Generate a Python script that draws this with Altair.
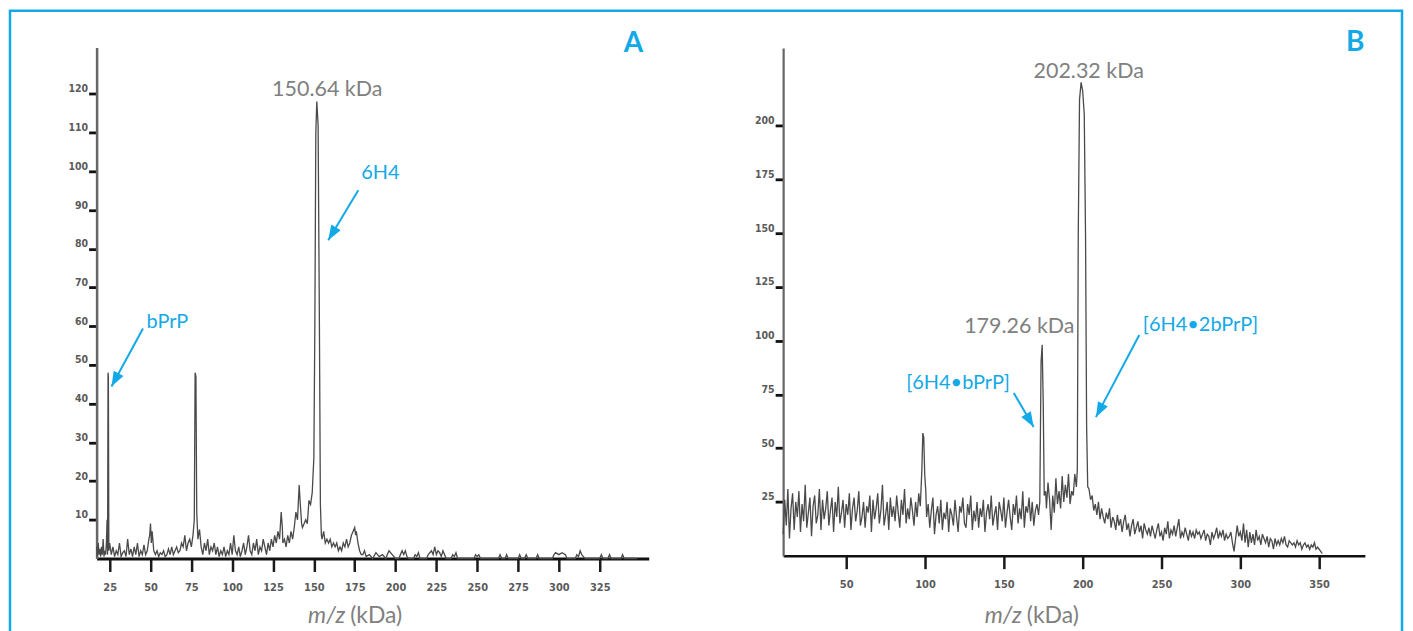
import altair as alt
import pandas as pd

BLUE = "#12a9e6"
GRAY_TXT = "#808080"
LINE = "#4a4a4a"
TICK_FONT = "Liberation Sans Narrow, DejaVu Sans Condensed, sans-serif"
MAIN_FONT = "Lato"

# ---------------- Panel A spectrum ----------------
A_MZ = [
    17, 17.5, 18, 18.5, 19, 19.5, 20, 20.5, 21, 21.5,
    22, 22.5, 23, 23.4, 23.7, 24.0, 24.2, 24.5, 25, 26,
    27, 28, 29, 30, 31, 32, 33, 34, 35, 36,
    37, 38, 39, 40, 41, 42, 43, 44, 45, 46,
    47, 48, 49, 49.5, 50, 50.5, 51, 52, 53, 54,
    55, 56, 57, 58, 59, 60, 61, 62, 63, 64,
    65, 66, 67, 68, 69, 70, 71, 72, 73, 74,
    75, 76, 76.8, 77.3, 77.8, 78.3, 79, 80, 81, 82,
    83, 84, 85, 86, 87, 88, 89, 90, 91, 92,
    93, 94, 95, 96, 97, 98, 99, 100, 101, 102,
    103, 104, 105, 106, 107, 108, 109, 110, 111, 112,
    113, 114, 115, 116, 117, 118, 119, 120, 121, 122,
    123, 124, 125, 126, 127, 128, 129, 130, 130.7, 131,
    132, 133, 134, 135, 136, 137, 138, 139, 140, 141,
    141.7, 142.5, 143, 144, 145, 146, 147, 148, 149, 150,
    150.6, 151.2, 151.8, 152.6, 153.4, 154, 154.6, 155, 156, 157,
    158, 159, 160, 161, 162, 163, 164, 165, 166, 167,
    168, 169, 170, 171, 172, 173, 174, 175, 175.6, 176,
    177, 178, 179, 180, 181, 182, 184, 186, 188, 190,
    192, 194, 196, 198, 200, 202, 203, 204, 205, 206,
    207, 208, 211, 212, 213, 214, 215, 219, 220, 222,
    223, 224, 225, 226, 227, 228, 229, 230, 231, 234,
    235, 236, 237, 238, 248, 249, 250, 251, 252, 263,
    264, 265, 267, 268, 269, 275, 276, 277, 279, 280,
    281, 286, 287, 288, 296, 297, 298, 300, 302, 304,
    305, 310, 311, 312, 313, 314, 315, 316, 325, 326,
    327, 330, 331, 332, 338, 339, 340, 348,
]
A_INT = [
    3, 0.5, 4, 1, 2.5, 0.5, 3, 1, 5, 0.5,
    2, 1, 4, 10, 1, 48, 47, 2, 4, 1,
    3, 0.5, 2, 1, 4, 0.5, 1.5, 2, 0.5, 5,
    1, 2.5, 0.5, 3, 1, 4, 0.5, 2, 1, 3.5,
    1, 2, 5, 6, 9, 4, 7, 2, 1, 2,
    0.5, 1.5, 1, 2, 0.5, 1, 2.5, 1, 3, 1,
    2, 3, 1.5, 2, 4, 3, 6, 2, 4, 5,
    3, 6, 10, 48, 47, 12, 5, 7.5, 3, 1,
    4, 2, 5, 1, 3, 2, 4, 1, 3, 0.5,
    2, 1, 3, 0.5, 2, 1, 4, 1, 6, 2,
    1, 3, 0.5, 2, 4, 1, 3, 6, 2, 1,
    4, 2, 5, 1, 3, 2, 5, 3, 1, 4,
    2, 5, 3, 6, 4, 7, 5, 12, 8, 4,
    5, 3, 6, 4, 7, 5, 8, 12, 10, 19,
    14, 9, 8, 9, 10, 9, 15, 14, 17, 26,
    60, 110, 118, 112, 60, 14, 6, 5, 7, 4,
    5, 4, 5, 3, 4, 3, 4, 2, 3, 2,
    4, 3, 5, 3, 4, 6, 7, 8, 6, 7,
    4, 2, 1, 1, 2, 0.5, 1, 0, 1.5, 0.5,
    1, 0, 2, 1, 0, 0, 1, 2, 1, 2,
    0.5, 0, 0, 1, 0.5, 1.5, 0, 0, 1, 2,
    1, 3, 1, 2, 1.5, 0.5, 2, 1, 0, 0,
    1, 0.5, 1.5, 0, 0, 1, 0.5, 1, 0, 0,
    1, 0, 0, 1, 0, 0, 1, 0, 0, 1,
    0, 0, 1, 0, 0, 1, 1.5, 1, 1.5, 1,
    0, 0, 1, 0.5, 2, 1, 0.5, 0, 0, 1,
    0, 0, 1, 0, 0, 1, 0, 0,
]

# ---------------- Panel B spectrum ----------------
B_MZ = (
    list(range(10, 98))
    + [98, 98.6, 99.2, 99.8, 100.5]
    + list(range(101, 173))
    + [172.8, 173.6, 174.3, 175, 175.6, 176.5]
    + list(range(177, 196))
    + [196, 196.6, 197.2, 198, 199, 200, 201, 201.8, 202.5, 203.2]
    + list(range(204, 353))
)
B_INT = [
    # 10-97
    10, 26, 14, 31, 8, 22, 29, 12, 25, 18,
    30, 11, 24, 16, 33, 13, 20, 27, 9, 23,
    28, 15, 19, 31, 12, 26, 17, 22, 30, 14,
    21, 27, 11, 25, 18, 32, 15, 20, 26, 13,
    24, 19, 29, 12, 22, 27, 16, 21, 30, 14,
    18, 25, 13, 23, 20, 28, 11, 26, 17, 22,
    29, 15, 21, 33, 14, 19, 25, 12, 27, 18,
    23, 16, 28, 20, 13, 26, 19, 31, 15, 22,
    17, 27, 21, 14, 25, 18, 29, 23,
    # peak near 99
    40, 57, 55, 38, 30,
    # 101-172
    18, 24, 13, 21, 27, 10, 19,
    23, 15, 26, 12, 20, 17, 25, 11, 22, 19,
    14, 26, 18, 11, 23, 20, 27, 15, 13, 24,
    19, 28, 12, 21, 16, 25, 13, 22, 18, 26,
    11, 20, 24, 17, 28, 14, 19, 23, 12, 25,
    21, 16, 27, 13, 20, 26, 18, 12, 24, 19,
    28, 15, 22, 17, 30, 13, 23, 20, 27, 16,
    25, 14, 21, 24, 19,
    # peak 179.26
    25, 90, 98, 70, 28, 30,
    # 177-195
    22, 34, 26, 12, 28, 20, 36, 24, 30, 22,
    37, 25, 33, 27, 38, 24, 30, 28, 38,
    # peak 202.32
    32, 40, 150, 212, 220, 216, 205, 150, 60, 32,
    # 204-352
    31, 26, 28, 21, 24, 19, 25, 17, 22, 18,
    15, 20, 17, 22, 13, 18, 16, 12, 19, 14,
    17, 11, 16, 19, 12, 15, 9, 14, 17, 10,
    13, 16, 11, 14, 8, 15, 12, 10, 13, 9,
    14, 11, 8, 12, 15, 9, 11, 7, 13, 10,
    16, 8, 12, 10, 14, 9, 13, 17, 8, 11,
    9, 13, 10, 7, 12, 9, 11, 8, 12, 10,
    11, 8, 10, 12, 7, 10, 9, 5, 11, 8,
    10, 13, 8, 11, 9, 12, 7, 10, 8, 9,
    11, 6, 2, 8, 14, 9, 11, 7, 15, 6,
    12, 4, 11, 6, 10, 5, 12, 7, 9, 5,
    10, 8, 6, 9, 4, 8, 7, 3, 8, 5,
    7, 5, 8, 6, 9, 5, 4, 7, 6, 5,
    6, 4, 7, 5, 6, 3, 5, 6, 4, 5,
    3, 5, 4, 6, 3, 4, 3, 2, 1,
]
assert len(A_MZ) == len(A_INT), (len(A_MZ), len(A_INT))
assert len(B_MZ) == len(B_INT), (len(B_MZ), len(B_INT))

# ---------------- ticks ----------------
A_XTICKS = [25, 50, 75, 100, 125, 150, 175, 200, 225, 250, 275, 300, 325]
A_YTICKS = [10, 20, 30, 40, 50, 60, 70, 80, 90, 100, 110, 120]
B_XTICKS = [50, 100, 150, 200, 250, 300, 350]
B_YTICKS = [25, 50, 75, 100, 125, 150, 175, 200]

# ---------------- annotations (data coordinates) ----------------
A_LETTER = ["A"]; A_LETTER_X = [345.7]; A_LETTER_Y = [133]
A_MASS_TEXT = ["150.64 kDa"]; A_MASS_X = [158.2]; A_MASS_Y = [121.1]
A_NAME_TEXT = ["6H4", "bPrP"]; A_NAME_X = [179, 47.6]; A_NAME_Y = [99.5, 61.2]
A_ARROW_X = [177.2, 45.4]; A_ARROW_Y = [95.1, 59.4]
A_TIP_X = [158.8, 26.1]; A_TIP_Y = [82.2, 44.4]; A_TIP_ANGLE = [211, 208.4]
A_TITLE_X = [169.8]; A_TITLE_Y = [-14.9]

B_LETTER = ["B"]; B_LETTER_X = [372.8]; B_LETTER_Y = [238.5]
B_MASS_TEXT = ["202.32 kDa", "179.26 kDa"]; B_MASS_X = [203.8, 159.8]; B_MASS_Y = [225.0, 106.4]
B_NAME_TEXT = ["[6H4•bPrP]", "[6H4•2bPrP]"]; B_NAME_X = [120.9, 274.7]; B_NAME_Y = [80.3, 107.2]
B_ARROW_X = [156.3, 235.9]; B_ARROW_Y = [75.6, 102.6]
B_TIP_X = [168.9, 208.4]; B_TIP_Y = [59.8, 64.4]; B_TIP_ANGLE = [149.5, 207.8]
B_TITLE_X = [162.0]; B_TITLE_Y = [-28.2]

ARROW_HEAD = "M0,0L-0.37,1L0.37,1Z"

H = 630


def panel(mz, inten, sx_dom, sx_rng, sy_dom, sy_rng, xticks, yticks,
          x_off, y_off, letter, lx, ly, mass_t, mx, my, name_t, nx, ny, name_align,
          ax, ay, tx, ty, tang, tix, tiy, dom_x_w, dom_y_w):
    def SX():
        return alt.Scale(domain=sx_dom, range=sx_rng, nice=False, zero=False)

    def SY():
        return alt.Scale(domain=sy_dom, range=sy_rng, nice=False, zero=False)

    spec = pd.DataFrame({"mz": mz, "intensity": inten})
    line = alt.Chart(spec).mark_line(color=LINE, strokeWidth=1.3).encode(
        x=alt.X("mz:Q", scale=SX(), axis=alt.Axis(
            orient="bottom", offset=x_off, values=xticks, title=None, grid=False,
            domainColor="#111111", domainWidth=dom_x_w, ticks=True, tickColor="#1a1a1a",
            tickWidth=2.5, tickSize=13, tickOpacity=1, labelFont=TICK_FONT, labelFontSize=11,
            labelFontWeight="bold", labelColor="#5a5a5a", labelPadding=10,
            labelFlush=False, labelOverlap=False)),
        y=alt.Y("intensity:Q", scale=SY(), axis=alt.Axis(
            orient="left", offset=y_off, values=yticks, title=None, grid=False,
            domainColor="#666666", domainWidth=dom_y_w, ticks=True, tickColor="#111111",
            tickWidth=2.8, tickSize=8, labelFont=TICK_FONT, labelFontSize=10.5,
            labelFontWeight="bold", labelColor="#5a5a5a", labelPadding=1,
            labelBaseline="bottom", labelAlign="right",
            labelFlush=False, labelOverlap=False)),
    )

    def ax_(f):
        return alt.X(f, scale=SX(), axis=None)

    def ay_(f):
        return alt.Y(f, scale=SY(), axis=None)

    let_df = pd.DataFrame({"t": letter, "x": lx, "y": ly})
    letter_l = alt.Chart(let_df).mark_text(font=MAIN_FONT, fontSize=28, fontWeight="bold",
                                           color=BLUE, baseline="middle", align="center").encode(
        x=ax_("x:Q"), y=ay_("y:Q"), text="t:N")
    mass_df = pd.DataFrame({"t": mass_t, "x": mx, "y": my})
    mass_l = alt.Chart(mass_df).mark_text(font=MAIN_FONT, fontSize=21.5,
                                          color=GRAY_TXT, baseline="middle", align="center").encode(
        x=ax_("x:Q"), y=ay_("y:Q"), text="t:N")
    name_df = pd.DataFrame({"t": name_t, "x": nx, "y": ny})
    name_l = alt.Chart(name_df).mark_text(font=MAIN_FONT, fontSize=20,
                                          color=BLUE, baseline="middle", align=name_align).encode(
        x=ax_("x:Q"), y=ay_("y:Q"), text="t:N")
    arr_df = pd.DataFrame({"x": ax, "y": ay, "x2": tx, "y2": ty, "ang": tang})
    arr_l = alt.Chart(arr_df).mark_rule(color=BLUE, strokeWidth=2).encode(
        x=ax_("x:Q"), y=ay_("y:Q"), x2="x2:Q", y2="y2:Q")
    head_l = alt.Chart(arr_df).mark_point(shape=ARROW_HEAD, filled=True, color=BLUE,
                                          size=900, opacity=1, strokeWidth=0).encode(
        x=ax_("x2:Q"), y=ay_("y2:Q"), angle=alt.Angle("ang:Q", scale=None))
    tdf = pd.DataFrame({"x": tix, "y": tiy})
    t1 = alt.Chart(tdf).mark_text(text="m/z", font=MAIN_FONT, fontSize=23, fontStyle="italic",
                                  color=GRAY_TXT, align="right", baseline="middle",
                                  dx=-1).encode(x=ax_("x:Q"), y=ay_("y:Q"))
    t2 = alt.Chart(tdf).mark_text(text="(kDa)", font=MAIN_FONT, fontSize=23,
                                  color=GRAY_TXT, align="left", baseline="middle",
                                  dx=4).encode(x=ax_("x:Q"), y=ay_("y:Q"))
    return [line, letter_l, mass_l, name_l, arr_l, head_l, t1, t2]


layers_a = panel(A_MZ, A_INT, [17, 355], [86.8, 640.1], [0, 132], [549, 36.8],
                 A_XTICKS, A_YTICKS, -(H - 549), -86.8,
                 A_LETTER, A_LETTER_X, A_LETTER_Y, A_MASS_TEXT, A_MASS_X, A_MASS_Y,
                 A_NAME_TEXT, A_NAME_X, A_NAME_Y, "left",
                 A_ARROW_X, A_ARROW_Y, A_TIP_X, A_TIP_Y, A_TIP_ANGLE, A_TITLE_X, A_TITLE_Y,
                 3, 2.5)
layers_b = panel(B_MZ, B_INT, [10, 379], [774.8, 1357.8], [0, 236], [546.2, 37.4],
                 B_XTICKS, B_YTICKS, -(H - 546.2), -774.8,
                 B_LETTER, B_LETTER_X, B_LETTER_Y, B_MASS_TEXT, B_MASS_X, B_MASS_Y,
                 B_NAME_TEXT, B_NAME_X, B_NAME_Y, "center",
                 B_ARROW_X, B_ARROW_Y, B_TIP_X, B_TIP_Y, B_TIP_ANGLE, B_TITLE_X, B_TITLE_Y,
                 2.5, 2.2)

chart = alt.layer(*(layers_a + layers_b)).resolve_scale(
    x="independent", y="independent"
).resolve_axis(x="independent", y="independent").properties(
    width=1395, height=H, autosize="none",
    padding={"left": 2, "top": 2, "right": 3, "bottom": 0},
    background="white",
).configure_view(stroke=BLUE, strokeWidth=2.5)

chart.save("out.html", embed_options={"renderer": "svg", "actions": False})
